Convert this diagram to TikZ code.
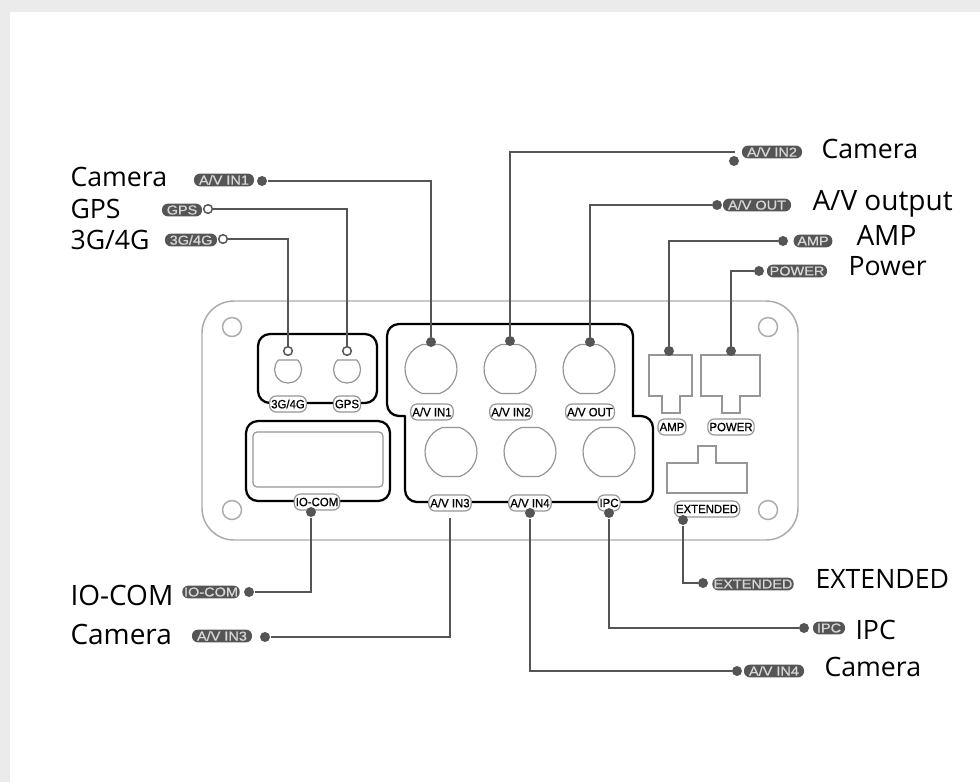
\documentclass[tikz,border=0pt]{standalone}
\usepackage{fontspec}
\setmainfont{Open Sans}
\newfontfamily\tagfont[FakeStretch=1.12,FakeBold=0.6]{Liberation Sans}
\newfontfamily\panelfont[FakeStretch=0.95,FakeBold=0.8]{Liberation Sans}
\definecolor{framegrey}{RGB}{235,235,235}
\definecolor{wiregrey}{RGB}{85,85,85}
\definecolor{partgrey}{RGB}{150,150,150}
\definecolor{tagtext}{RGB}{215,215,215}
\tikzset{every picture/.style={line width=0.75pt},
  plate/.style={draw=partgrey!80,line width=1.1pt},
  part/.style={draw=partgrey,line width=0.9pt},
  group/.style={draw=black,line width=1.7pt,rounded corners=9pt},
  wire/.style={draw=wiregrey,line width=1.7pt},
  dot/.style={circle,fill=wiregrey,inner sep=0pt,minimum size=7.5pt},
  ring/.style={circle,draw=wiregrey,fill=white,line width=1.1pt,inner sep=0pt,minimum size=6.5pt},
  tag/.style={rounded corners=4.4pt,fill=wiregrey,text=tagtext,inner sep=0pt,minimum height=9.5pt,font=\tagfont\fontsize{9.7}{9}\selectfont},
  plabel/.style={rounded corners=4.8pt,draw=partgrey,fill=white,line width=0.9pt,inner sep=1.2pt,minimum height=12pt,font=\panelfont\fontsize{9}{9}\selectfont},
  caption/.style={anchor=base west,inner sep=0pt,font=\fontsize{20}{22}\selectfont},
  capbig/.style={caption,font=\fontsize{21}{22}\selectfont},
  nut/.pic={\draw[part] (-8.7,-24.5) -- (8.7,-24.5) arc[start angle=-70.4,end angle=70.4,radius=26] -- (-8.7,24.5) arc[start angle=109.6,end angle=250.4,radius=26] -- cycle;},
  dome/.pic={\draw[part] (9.6,9.5) arc[start angle=45,end angle=-225,radius=13.5] -- cycle;}}
\begin{document}
\begin{tikzpicture}[x=0.75pt,y=0.75pt,yscale=-1]
\useasboundingbox (0,0) rectangle (980,782);

%Frame
\fill[framegrey] (0,0) rectangle (980,782);
\fill[white] (10,12) rectangle (980,782);

%Shape: Plate
\draw[plate,rounded corners=24pt] (202,301) rectangle (798,540);
\draw[plate] (232,327) circle (9.5);
\draw[plate] (232,510) circle (9.5);
\draw[plate] (768,327) circle (9.5);
\draw[plate] (768,510) circle (9.5);

%Shape: Groups
\draw[group] (258,403) -- (258,334) -- (377,334) -- (377,403) -- cycle;
\draw[group] (246,501) rectangle (390,421);
\draw[group,line cap=round] (405,416) -- (387,416) -- (387,324) -- (633,324) [sharp corners] -- (633,416) [rounded corners=9pt] -- (653,416) -- (653,502) -- (405,502) -- (405,416);

%Shape: Connectors
\draw[part,rounded corners=3pt] (253,432) rectangle (383,487);
\path (288,369.5) pic {dome};
\path (347,369.5) pic {dome};
\path (431,369) pic {nut};
\path (510,369) pic {nut};
\path (589,369) pic {nut};
\path (451,452) pic {nut};
\path (530,452) pic {nut};
\path (609,452) pic {nut};
\draw[part] (649,355) -- (692,355) -- (692,396) -- (680,396) -- (680,413) -- (662,413) -- (662,396) -- (649,396) -- cycle;
\draw[part] (701,355) -- (760,355) -- (760,396) -- (740,396) -- (740,413) -- (722,413) -- (722,396) -- (701,396) -- cycle;
\draw[part] (667,463) -- (698,463) -- (698,446) -- (716,446) -- (716,463) -- (747,463) -- (747,493) -- (667,493) -- cycle;

% Panel labels
\node[plabel] (lblthreeg) at (288,404) {3G/4G};
\node[plabel] (lblgps) at (347,404) {GPS};
\node[plabel] (lblinone) at (432,412) {A/V IN1};
\node[plabel] (lblintwo) at (511,412) {A/V IN2};
\node[plabel] (lblout) at (590,412) {A/V OUT};
\node[plabel] (lblamp) at (672,427) {AMP};
\node[plabel] (lblpower) at (731,427) {POWER};
\node[plabel] (lbliocom) at (317,502) {IO-COM};
\node[plabel] (lblinthree) at (450,503) {A/V IN3};
\node[plabel] (lblinfour) at (530,503) {A/V IN4};
\node[plabel] (lblipc) at (609,503) {IPC};
\node[plabel] (lblext) at (707,509) {EXTENDED};

% Pins on the panel
\node[ring] (pinthreeg) at (288,351) {};
\node[ring] (pingps) at (347,351) {};
\node[dot] (pininone) at (431,342) {};
\node[dot] (pinintwo) at (510,341) {};
\node[dot] (pinout) at (590,342) {};
\node[dot] (pinamp) at (669,351) {};
\node[dot] (pinpower) at (731,351) {};
\node[dot] (piniocom) at (311,512) {};
\coordinate (pininthree) at (450,518);
\node[dot] (pininfour) at (530,513) {};
\node[dot] (pinipc) at (609,513) {};
\node[dot] (pinext) at (683,520) {};

% Outer ends
\node[dot] (endinone) at (262,181) {};
\node[ring] (endgps) at (208,209) {};
\node[ring] (endthreeg) at (223,239) {};
\coordinate (endintwo) at (735,152);
\node[dot] (dotintwo) at (734,161) {};
\node[dot] (endout) at (717,205) {};
\node[dot] (endamp) at (783,241) {};
\node[dot] (endpower) at (759,271) {};
\node[dot] (endext) at (703,583) {};
\node[dot] (endipc) at (804,628) {};
\node[dot] (endinfour) at (737,671) {};
\node[dot] (endiocom) at (249,592) {};
\node[dot] (endinthree) at (265,637) {};

%Straight Lines
\draw[wire] (endinone) -| (pininone);
\draw[wire] (endgps) -| (pingps);
\draw[wire] (endthreeg) -| (pinthreeg);
\draw[wire] (endintwo) -| (pinintwo);
\draw[wire] (endout) -| (pinout);
\draw[wire] (endamp) -| (pinamp);
\draw[wire] (endpower) -| (pinpower);
\draw[wire] (endext) -| (pinext);
\draw[wire] (endipc) -| (pinipc);
\draw[wire] (endinfour) -| (pininfour);
\draw[wire] (endiocom) -| (piniocom);
\draw[wire] (endinthree) -| (pininthree);

% Dark tags
\node[tag,minimum width=45pt] (taginone) at (224,180) {A/V IN1};
\node[tag,minimum width=30pt] (taggps) at (182,210) {GPS};
\node[tag,minimum width=39pt] (tagthreeg) at (191,240) {3G/4G};
\node[tag,minimum width=45pt] (tagintwo) at (772,152) {A/V IN2};
\node[tag,minimum width=51pt] (tagout) at (757,205) {A/V OUT};
\node[tag,minimum width=29pt] (tagamp) at (813,241) {AMP};
\node[tag,minimum width=45pt] (tagpower) at (797,271) {POWER};
\node[tag,minimum width=61pt] (tagext) at (753,584) {EXTENDED};
\node[tag,minimum width=24pt] (tagipc) at (829,628) {IPC};
\node[tag,minimum width=45pt] (taginfour) at (774,671) {A/V IN4};
\node[tag,minimum width=43pt] (tagiocom) at (211,592) {IO-COM};
\node[tag,minimum width=45pt] (taginthree) at (222,636) {A/V IN3};

% Text Node
\node[caption] (capinone) at (70,186) {Camera};
\node[caption] (capgps) at (70,218) {GPS};
\node[caption] (capthreeg) at (70,249) {3G/4G};
\node[caption] (capintwo) at (821,158) {Camera};
\node[capbig] (capout) at (812,210) {A/V output};
\node[capbig] (capamp) at (856,245) {AMP};
\node[caption] (cappower) at (848,275) {Power};
\node[caption] (capext) at (815,588) {EXTENDED};
\node[caption] (capipc) at (855,639) {IPC};
\node[caption] (capinfour) at (824,676) {Camera};
\node[capbig] (capiocom) at (70,605) {IO-COM};
\node[capbig] (capinthree) at (70,644) {Camera};

\end{tikzpicture}
\end{document}
